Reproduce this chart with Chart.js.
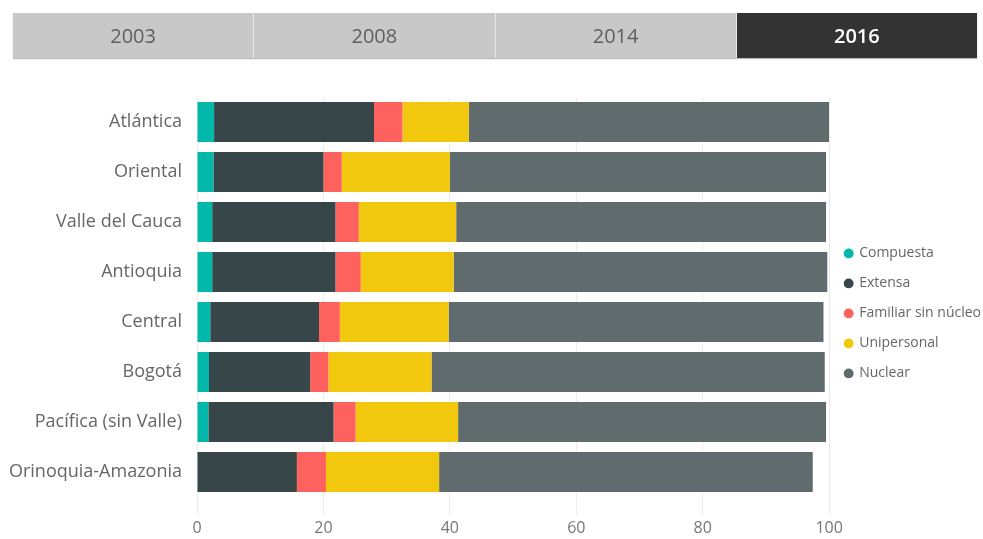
<!DOCTYPE html>
<html>
<head>
<meta charset="utf-8">
<script src="https://cdn.jsdelivr.net/npm/chart.js@4"></script>
<style>
  body { margin: 0; background: #fff; font-family: "Open Sans", sans-serif; }
  #wrap { position: relative; width: 983px; height: 539px; }
  #tabs { position: absolute; left: 13px; top: 13px; width: 964px; height: 45px; display: flex; }
  .tab { flex: 1; background: #c8c8c8; color: #5f5f5f; font-size: 20px; text-align: center; line-height: 45px; border-right: 1px solid #f0f0f0; box-shadow: 0 1px 1px #bbb; }
  .tab.on { background: #333; color: #fff; font-weight: 600; border-right: none; }
  #chart { position: absolute; left: 0; top: 0; }
</style>
</head>
<body>
<div id="wrap">
  <canvas id="chart" width="983" height="539"></canvas>
  <div id="tabs">
    <div class="tab">2003</div>
    <div class="tab">2008</div>
    <div class="tab">2014</div>
    <div class="tab on">2016</div>
  </div>
</div>
<script>
const regions = ["Atlántica", "Oriental", "Valle del Cauca", "Antioquia", "Central", "Bogotá", "Pacífica (sin Valle)", "Orinoquia-Amazonia"];
const compuesta = [2.7, 2.6, 2.4, 2.4, 2.1, 1.9, 1.8, 0];
const extensa = [25.3, 17.4, 19.5, 19.5, 17.2, 16.0, 19.8, 15.8];
const familiarSinNucleo = [4.5, 2.9, 3.7, 4.0, 3.3, 2.9, 3.5, 4.6];
const unipersonal = [10.5, 17.1, 15.4, 14.7, 17.2, 16.3, 16.2, 17.9];
const nuclear = [57.0, 59.5, 58.5, 59.1, 59.3, 62.2, 58.2, 59.1];
const xTicks = [0, 20, 40, 60, 80, 100];

document.addEventListener("DOMContentLoaded", function () {
    const series = [
        { label: "Compuesta", data: compuesta, color: "#01B8AA" },
        { label: "Extensa", data: extensa, color: "#374649" },
        { label: "Familiar sin núcleo", data: familiarSinNucleo, color: "#FD625E" },
        { label: "Unipersonal", data: unipersonal, color: "#F2C80F" },
        { label: "Nuclear", data: nuclear, color: "#5F6B6D" }
    ];

    new Chart(document.getElementById("chart").getContext("2d"), {
        type: "bar",
        data: {
            labels: regions,
            datasets: series.map(s => ({
                label: s.label,
                data: s.data,
                backgroundColor: s.color,
                borderWidth: 0,
                barPercentage: 0.8,
                categoryPercentage: 1
            }))
        },
        options: {
            indexAxis: "y",
            responsive: false,
            animation: false,
            layout: { padding: { top: 97, right: -8 } },
            plugins: {
                tooltip: { enabled: false },
                legend: {
                    position: "right",
                    align: "start",
                    title: { display: true, text: "", font: { size: 12 }, padding: { top: 0, bottom: 119 } },
                    labels: {
                        usePointStyle: true,
                        pointStyle: "circle",
                        boxWidth: 7,
                        boxHeight: 7,
                        padding: 16,
                        color: "#666",
                        font: { family: "'Open Sans', sans-serif", size: 14 }
                    }
                }
            },
            scales: {
                x: {
                    stacked: true,
                    min: 0,
                    max: 100,
                    afterBuildTicks: axis => { axis.ticks = xTicks.map(v => ({ value: v })); },
                    afterFit: axis => { axis.height = 42; },
                    grid: { color: "#ececec", tickLength: 18, drawTicks: true },
                    border: { display: false },
                    ticks: { color: "#777", padding: 4, font: { family: "'Open Sans', sans-serif", size: 16 } }
                },
                y: {
                    stacked: true,
                    afterFit: axis => { axis.width = 197; },
                    grid: { display: false },
                    border: { display: false },
                    ticks: { color: "#666", padding: 7, font: { family: "'Open Sans', sans-serif", size: 18 } }
                }
            }
        }
    });
});
</script>
</body>
</html>
